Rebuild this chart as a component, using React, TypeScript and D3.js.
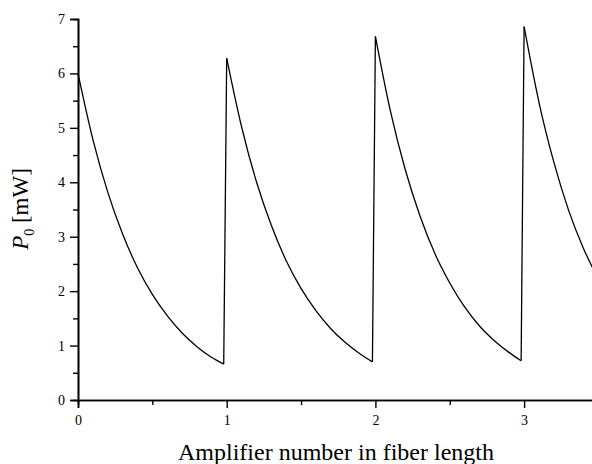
import * as d3 from "d3"
import { useEffect, useRef } from "react"

// amplifier position (in units of fiber length) and power
const seg1X = [0, 0.1, 0.2, 0.3, 0.4, 0.5, 0.6, 0.7, 0.8, 0.9, 0.98]
const seg1P = [6.0, 4.79, 3.82, 3.05, 2.43, 1.94, 1.55, 1.23, 0.98, 0.78, 0.66]
const seg2X = [1, 1.1, 1.2, 1.3, 1.4, 1.5, 1.6, 1.7, 1.8, 1.9, 1.98]
const seg2P = [6.28, 5.02, 4.01, 3.21, 2.56, 2.05, 1.64, 1.31, 1.05, 0.84, 0.7]
const seg3X = [2, 2.1, 2.2, 2.3, 2.4, 2.5, 2.6, 2.7, 2.8, 2.9, 2.98]
const seg3P = [6.68, 5.32, 4.24, 3.38, 2.69, 2.15, 1.71, 1.36, 1.09, 0.87, 0.72]
const seg4X = [3, 3.1, 3.2, 3.3, 3.4, 3.5]
const seg4P = [6.86, 5.47, 4.37, 3.48, 2.78, 2.22]

const xMajor = [0, 1, 2, 3]
const xMinor = [0.5, 1.5, 2.5, 3.5]
const yMajor = [0, 1, 2, 3, 4, 5, 6, 7]
const yMinor = [0.5, 1.5, 2.5, 3.5, 4.5, 5.5, 6.5]

const FONT = "'Liberation Serif', 'Times New Roman', serif"

const App = () => {
  const ref = useRef<SVGSVGElement>(null)
  const width = 592
  const height = 464

  useEffect(() => {
    const svg = d3.select(ref.current)
    svg.selectAll("*").remove()

    const x = d3.scaleLinear().domain([0, 3.5]).range([78, 598.45])
    const y = d3.scaleLinear().domain([0, 7]).range([400, 19])

    const segments = [
      [seg1X, seg1P],
      [seg2X, seg2P],
      [seg3X, seg3P],
      [seg4X, seg4P],
    ].map(([xs, ps]) => xs.map((v, i) => [v, ps[i]] as [number, number]))

    const smooth = d3
      .line<[number, number]>()
      .x((d) => x(d[0]))
      .y((d) => y(d[1]))
      .curve(d3.curveMonotoneX)
    const straight = d3
      .line<[number, number]>()
      .x((d) => x(d[0]))
      .y((d) => y(d[1]))

    const curveG = svg
      .append("g")
      .attr("fill", "none")
      .attr("stroke", "#000")
      .attr("stroke-width", 1.3)
      .attr("stroke-linejoin", "round")

    segments.forEach((seg, i) => {
      curveG.append("path").datum(seg).attr("d", smooth)
      const next = segments[i + 1]
      if (next) {
        // jump at each amplifier
        curveG.append("path").datum([seg[seg.length - 1], next[0]]).attr("d", straight)
      }
    })

    const styleAxis = (g) => {
      g.selectAll("path.domain").attr("stroke-width", 1.6)
      g.selectAll(".tick line").attr("stroke-width", 1.4)
      g.selectAll("text")
        .style("font-family", FONT)
        .style("font-size", "14px")
        .attr("fill", "#000")
    }

    // minor ticks
    svg
      .append("g")
      .attr("transform", `translate(0,${y(0)})`)
      .call(d3.axisBottom(x).tickValues(xMinor).tickSize(5).tickFormat(() => ""))
      .call(styleAxis)
    svg
      .append("g")
      .attr("transform", `translate(${x(0)},0)`)
      .call(d3.axisLeft(y).tickValues(yMinor).tickSize(5).tickFormat(() => ""))
      .call(styleAxis)

    svg
      .append("g")
      .attr("transform", `translate(0,${y(0)})`)
      .call(
        d3.axisBottom(x).tickValues(xMajor).tickSize(8).tickPadding(7).tickFormat(d3.format("d"))
      )
      .call(styleAxis)
    svg
      .append("g")
      .attr("transform", `translate(${x(0)},0)`)
      .call(
        d3.axisLeft(y).tickValues(yMajor).tickSize(8).tickPadding(5).tickFormat(d3.format("d"))
      )
      .call(styleAxis)

    svg
      .append("text")
      .attr("x", 336)
      .attr("y", 460)
      .attr("text-anchor", "middle")
      .style("font-family", FONT)
      .style("font-size", "24px")
      .text("Amplifier number in fiber length")

    const yt = svg
      .append("text")
      .attr("transform", "translate(28,209) rotate(-90)")
      .attr("text-anchor", "middle")
      .style("font-family", FONT)
      .style("font-size", "23px")
    yt.append("tspan").style("font-style", "italic").text("P")
    yt.append("tspan").attr("dy", 6).style("font-size", "14px").text("0")
    yt.append("tspan").attr("dy", -6).text(" [mW]")
  }, [])

  return (
    <svg
      ref={ref}
      width={width}
      height={height}
      style={{ position: "absolute", left: 0, top: 0, background: "#fff" }}
    ></svg>
  )
}

export default App
